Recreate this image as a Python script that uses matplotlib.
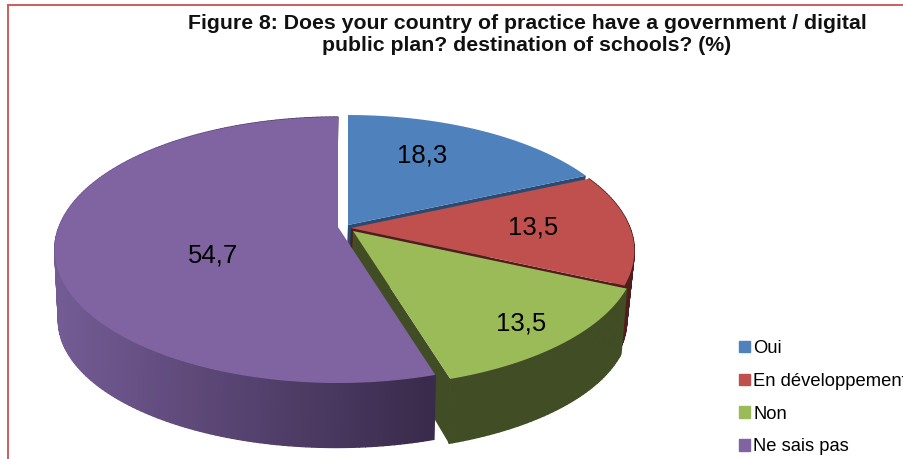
import numpy as np
import matplotlib
matplotlib.use("Agg")
import matplotlib.pyplot as plt
from matplotlib.patches import Patch
from matplotlib.colors import to_rgb

categories = ["Oui", "En développement", "Non", "Ne sais pas"]
values = [18.3, 13.5, 13.5, 54.7]
value_labels = ["18,3", "13,5", "13,5", "54,7"]
top_colors = ["#4f81bd", "#c0504d", "#9bbb59", "#8064a2"]
wall_left = ["#2c4a70", "#4e1d1c", "#414d24", "#735b94"]
wall_right = ["#2c4a70", "#4e1d1c", "#414d24", "#3a2b4c"]

# slice centres in pixels (pie is exploded a little)
apex_x = [348, 351, 353, 338]
apex_y = [225, 228, 231, 227]
label_x = [422, 533, 521, 213]
label_y = [155, 227, 323, 256]

# perspective of the pie: top rim and bottom rim
RX, RY, K = 279, 129, 0.173
RX_B, RY_B, K_B, DEPTH = 272, 122, 0.20, 68


def rim(i, deg, bottom=False):
    t = np.radians(deg)
    u, v = np.sin(t), -np.cos(t)
    if bottom:
        s = 1 / (1 - K_B * v)
        return apex_x[i] - 2 + RX_B * u * s, apex_y[i] + DEPTH + RY_B * v * s
    s = 1 / (1 - K * v)
    return apex_x[i] + RX * u * s, apex_y[i] + RY * v * s


def lerp_color(a, b, f):
    a, b = np.array(to_rgb(a)), np.array(to_rgb(b))
    return a + (b - a) * f


fig = plt.figure(figsize=(9.04, 4.59), dpi=100)
ax = fig.add_axes([0, 0, 1, 1])
ax.set_xlim(0, 904)
ax.set_ylim(459, 0)
ax.axis("off")

# frame, runs off the right and bottom of the picture
ax.plot([8, 8], [470, 5], color="#cd5c5c", lw=1.4, clip_on=False)
ax.plot([8, 920], [5, 5], color="#cd5c5c", lw=1.4, clip_on=False)

edges = np.cumsum([0] + values) * 3.6

for i in range(len(values)):
    a0, a1 = edges[i], edges[i + 1]
    # cut face on the clockwise side, the purple one is out of sight
    if i < 3:
        x_t, y_t = rim(i, a1)
        x_b, y_b = rim(i, a1, True)
        ax.fill([apex_x[i], x_t, x_b, apex_x[i] - 2],
                [apex_y[i], y_t, y_b, apex_y[i] + DEPTH * 0.7],
                color=wall_left[i], lw=0, zorder=2 + i * 2)

    # outer wall, in strips for the shading (blue wall faces away)
    if i > 0:
        steps = np.arange(a0, a1, 1.0)
        steps = np.append(steps, a1)
        for s0, s1 in zip(steps[:-1], steps[1:]):
            x0, y0 = rim(i, s0)
            x1, y1 = rim(i, s1)
            x2, y2 = rim(i, s1, True)
            x3, y3 = rim(i, s0, True)
            f = np.clip((x0 - 60) / 370, 0, 1)
            c = lerp_color(wall_left[i], wall_right[i], f)
            ax.fill([x0, x1, x2, x3], [y0, y1, y2, y3], color=c, ec=c, lw=1.0,
                    zorder=2 + i * 2)

    # top of the slice
    ang = np.linspace(a0, a1, 200)
    pts = [rim(i, a) for a in ang]
    xs = [apex_x[i]] + [p[0] for p in pts]
    ys = [apex_y[i]] + [p[1] for p in pts]
    ax.fill(xs, ys, color=top_colors[i], lw=0, zorder=3 + i * 2)

    ax.text(label_x[i], label_y[i], value_labels[i], fontsize=18.5,
            family="Liberation Sans", ha="center", va="center", zorder=20)

ax.text(527, 34.5, "Figure 8: Does your country of practice have a government / digital\n"
        "public plan? destination of schools? (%)",
        fontsize=15.3, fontweight="bold", family="Liberation Sans",
        ha="center", va="center", linespacing=1.18, color="#111111")

handles = [Patch(color=c, label=n) for c, n in zip(top_colors, categories)]
ax.legend(handles=handles, loc="upper left", bbox_to_anchor=(739 / 904, 1 - 340 / 459),
          frameon=False, handlelength=0.58, handleheight=0.58, handletextpad=0.2,
          labelspacing=0.86, borderpad=0, borderaxespad=0,
          prop={"family": "Liberation Sans", "size": 13.2})

fig.savefig("out.png", dpi=100)
plt.close(fig)
